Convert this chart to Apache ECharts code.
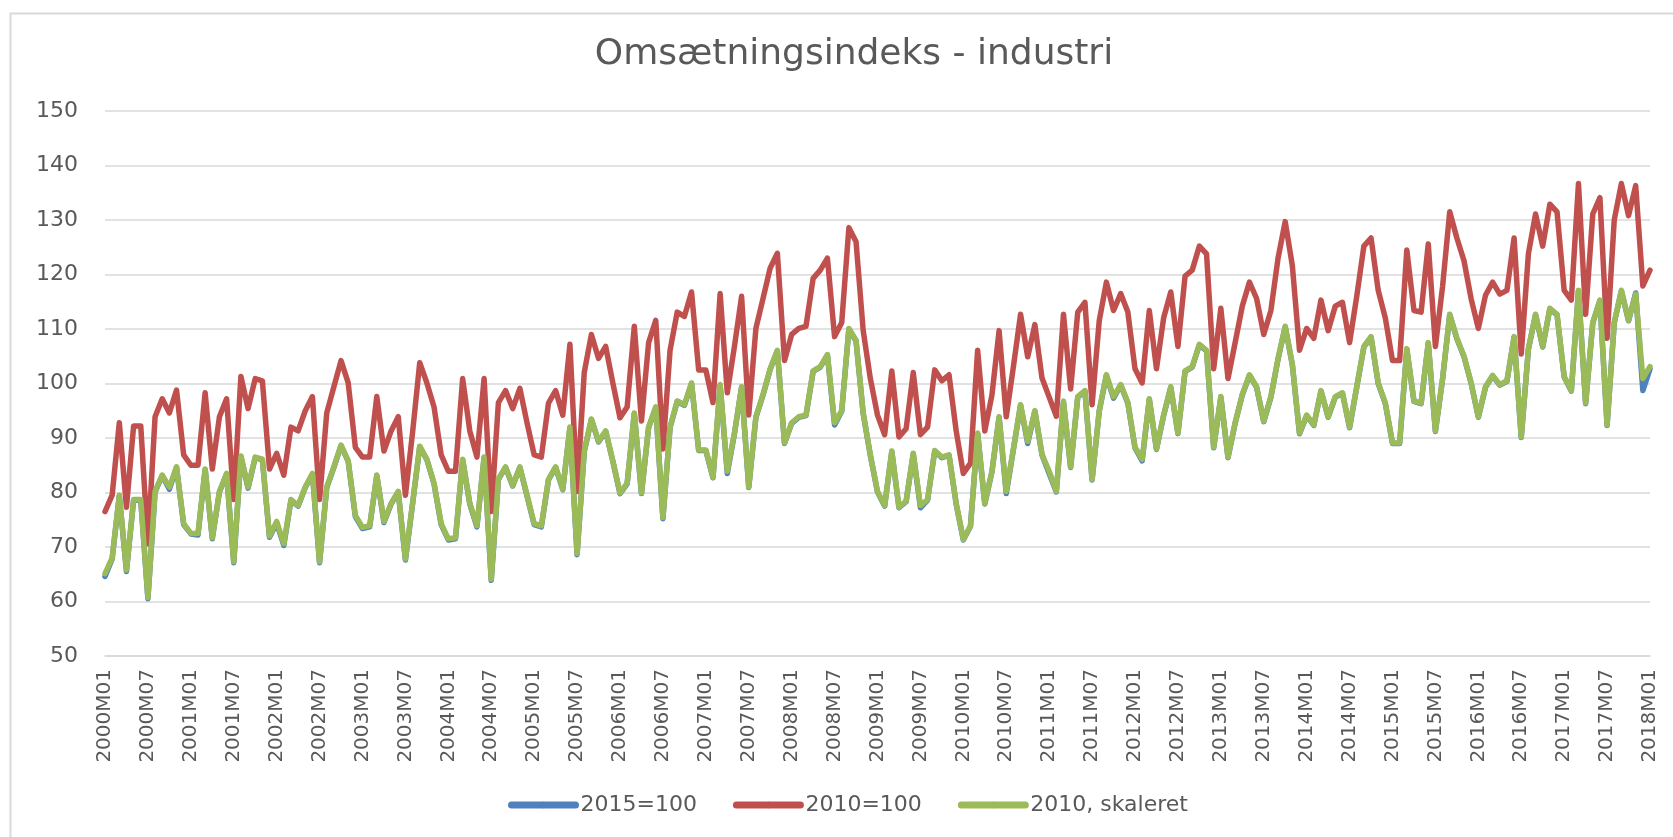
<!DOCTYPE html>
<html>
<head>
<meta charset="utf-8">
<script src="https://cdn.jsdelivr.net/npm/echarts@6/dist/echarts.min.js"></script>
<style>
html,body{margin:0;padding:0;background:#fff;}
#chart{width:1673px;height:837px;}
</style>
</head>
<body>
<div id="chart"></div>
<script>
// Monthly categories 2000M01 .. 2018M01
const START_YEAR = 2000;
const END_YEAR = 2018;
const categories = [];
for (let y = START_YEAR; y <= END_YEAR; y++) {
  for (let m = 1; m <= 12; m++) {
    if (y === END_YEAR && m > 1) break;
    categories.push(y + 'M' + (m < 10 ? '0' + m : '' + m));
  }
}

const yTicks = [50, 60, 70, 80, 90, 100, 110, 120, 130, 140, 150];

const seriesNames = ['2015=100', '2010=100', '2010, skaleret'];

// 2010=100 (red)
const idx2010 = [
76.5,79.5,92.8,77.3,92.2,92.2,70.6,93.9,97.2,94.6,98.8,86.9,
85.0,85.0,98.3,84.3,93.9,97.2,78.7,101.3,95.4,100.9,100.5,84.3,
87.2,83.2,92.0,91.3,95.0,97.6,78.7,94.6,99.4,104.2,100.1,88.3,
86.5,86.5,97.6,87.6,91.3,93.9,79.5,91.0,103.8,100.1,95.7,86.9,
83.9,83.9,100.9,91.3,86.5,100.9,76.5,96.5,98.7,95.4,99.1,92.8,
86.9,86.5,96.4,98.7,94.2,107.2,80.2,102.0,109.0,104.6,106.8,100.1,
93.7,95.7,110.5,93.1,107.5,111.6,88.0,106.1,113.1,112.3,116.8,102.5,
102.5,96.5,116.5,98.3,106.8,116.0,94.2,110.1,115.6,121.2,123.9,104.2,
109.0,110.1,110.5,119.3,120.8,123.0,108.6,111.2,128.6,126.0,109.7,100.9,
94.2,90.6,102.3,90.2,91.7,102.0,90.6,92.0,102.5,100.5,101.6,91.3,
83.5,85.4,106.1,91.3,97.9,109.7,93.9,103.1,112.7,104.9,110.8,101.0,
97.5,94.0,112.7,99.0,113.1,114.9,96.1,111.5,118.6,113.4,116.5,113.1,
102.7,100.1,113.4,102.7,112.0,116.8,106.8,119.7,120.8,125.2,123.8,102.7,
113.8,100.9,107.5,114.2,118.6,115.6,109.0,113.4,123.0,129.7,121.6,106.1,
110.1,108.3,115.3,109.7,114.2,114.9,107.5,116.0,125.2,126.7,117.1,112.0,
104.2,104.2,124.5,113.4,113.1,125.6,106.8,117.8,131.5,126.7,122.5,115.5,
110.1,116.2,118.6,116.4,117.1,126.7,105.4,123.8,131.1,125.2,132.9,131.5,
117.1,115.3,136.7,112.7,131.1,134.1,108.3,130.0,136.7,130.8,136.3,117.9,
120.8
];

// 2010, skaleret (green)
const idx2010scaled = [
65.1,68.0,79.5,65.8,78.7,78.7,60.7,80.2,83.2,81.0,84.7,74.3,
72.5,72.5,84.3,71.7,80.2,83.5,67.3,86.7,81.0,86.5,86.1,72.0,
74.7,70.6,78.7,77.6,81.0,83.5,67.3,81.0,84.7,88.7,85.8,75.8,
73.6,73.9,83.2,74.7,78.0,80.2,67.8,78.0,88.5,86.1,81.7,74.3,
71.5,71.7,86.1,78.0,73.9,86.5,64.1,82.5,84.7,81.3,84.7,79.5,
74.3,73.9,82.4,84.7,80.6,92.0,68.8,87.6,93.5,89.4,91.3,85.8,
79.9,81.7,94.6,79.9,92.0,95.7,75.4,92.0,96.8,96.1,100.1,87.8,
87.8,82.8,99.8,83.9,90.9,99.4,81.0,93.9,98.0,102.7,106.1,89.1,
92.8,93.9,94.2,102.3,103.1,105.3,92.8,95.0,110.1,107.9,94.6,86.9,
80.2,77.6,87.6,77.3,78.4,87.2,77.6,78.7,87.7,86.5,86.9,78.0,
71.4,73.9,90.9,78.0,83.9,93.9,80.2,88.0,96.1,89.4,95.0,87.0,
83.9,80.2,96.8,84.7,97.6,98.7,82.4,95.0,101.6,97.6,99.8,96.5,
88.3,86.1,97.2,88.0,94.2,99.4,90.9,102.3,103.1,107.2,106.1,88.3,
97.6,86.5,92.8,98.0,101.6,99.4,93.1,97.6,104.6,110.5,103.5,90.9,
94.2,92.4,98.7,93.9,97.6,98.3,92.0,99.4,106.8,108.6,100.1,96.4,
89.1,89.1,106.4,96.8,96.4,107.5,91.3,100.9,112.7,108.3,105.0,100.1,
93.9,99.4,101.5,99.8,100.5,108.6,90.2,106.4,112.7,106.8,113.8,112.7,
101.3,98.7,117.1,96.4,111.2,115.3,92.4,111.2,117.1,111.6,116.4,100.9,
103.1
];

// 2015=100 (blue, mostly hidden under green)
const idx2015 = [
64.6,67.8,79.4,65.5,78.6,78.6,60.5,80.1,83.1,80.6,84.6,74.1,
72.4,72.2,84.2,71.5,80.1,83.4,67.1,86.6,80.8,86.4,86.0,71.8,
74.4,70.3,78.6,77.5,80.9,83.4,67.1,80.9,84.6,88.6,85.7,75.6,
73.4,73.7,83.1,74.5,77.9,80.1,67.6,77.9,88.4,86.0,81.6,74.1,
71.3,71.5,86.0,77.9,73.7,86.4,63.9,82.4,84.6,81.2,84.6,79.4,
74.1,73.7,82.3,84.6,80.5,91.9,68.6,87.5,93.4,89.3,91.2,85.7,
79.8,81.6,94.5,79.8,91.9,95.6,75.2,91.9,96.7,96.0,100.0,87.7,
87.7,82.7,99.7,83.5,90.8,99.3,80.9,93.8,97.9,102.6,106.0,89.0,
92.7,93.8,94.1,102.2,103.0,105.2,92.4,94.9,110.0,107.8,94.5,86.8,
80.1,77.5,87.5,77.2,78.3,87.1,77.2,78.6,87.6,86.4,86.8,77.9,
71.3,73.8,90.8,77.9,83.8,93.8,79.8,87.9,96.0,89.0,94.9,86.9,
83.5,80.1,96.5,84.6,97.5,98.6,82.3,94.9,101.5,97.3,99.7,96.4,
88.2,85.8,97.1,87.9,94.1,99.3,90.8,102.2,103.0,107.1,106.0,88.2,
97.5,86.4,92.7,97.9,101.5,99.3,93.0,97.5,104.5,110.4,103.4,90.8,
94.1,92.3,98.6,93.8,97.5,98.2,91.9,99.3,106.7,108.5,100.0,96.3,
89.0,89.0,106.3,96.7,96.3,107.4,91.2,100.8,112.6,108.2,104.9,100.0,
93.8,99.3,101.4,99.7,100.4,108.5,90.1,106.3,112.6,106.7,113.7,112.6,
101.2,98.6,117.0,96.3,111.1,115.2,92.3,111.1,117.0,111.5,116.6,98.7,
102.7
];

const colors = ['#4F81BD', '#C0504D', '#9BBB59'];
const FONT = 'DejaVu Sans';
const GRAY = '#595959';

const chart = echarts.init(document.getElementById('chart'), null, {renderer: 'canvas'});

function lineSeries(name, data, color) {
  return {
    name: name,
    type: 'line',
    data: data,
    showSymbol: false,
    symbol: 'none',
    smooth: false,
    animation: false,
    lineStyle: {color: color, width: 5.5, cap: 'round', join: 'round'},
    itemStyle: {color: color}
  };
}

chart.setOption({
  animation: false,
  backgroundColor: '#ffffff',
  graphic: [{
    type: 'rect',
    shape: {x: 10.5, y: 13.5, width: 1700, height: 900},
    style: {fill: 'none', stroke: '#d9d9d9', lineWidth: 2},
    silent: true,
    z: -1
  }],
  title: {
    text: 'Omsætningsindeks - industri',
    left: 849,
    top: 32,
    textAlign: 'center',
    textStyle: {fontFamily: FONT, fontSize: 36, fontWeight: 'normal', color: GRAY}
  },
  legend: {
    data: seriesNames,
    left: 503,
    top: 789,
    itemWidth: 64,
    itemHeight: 8,
    itemGap: 36,
    lineStyle: {width: 7, cap: 'round'},
    textStyle: {fontFamily: FONT, fontSize: 22, color: GRAY}
  },
  grid: {left: 105, right: 23, top: 111, bottom: 181, containLabel: false},
  xAxis: {
    type: 'category',
    data: categories,
    boundaryGap: false,
    axisLine: {show: true, lineStyle: {color: '#d9d9d9', width: 1.5}},
    axisTick: {show: false},
    splitLine: {show: false},
    axisLabel: {
      interval: 5,
      rotate: 90,
      margin: 13,
      fontFamily: FONT,
      fontSize: 20,
      color: GRAY
    }
  },
  yAxis: {
    type: 'value',
    min: yTicks[0],
    max: yTicks[yTicks.length - 1],
    interval: 10,
    axisLine: {show: false},
    axisTick: {show: false},
    splitLine: {show: true, lineStyle: {color: '#d9d9d9', width: 1.5}},
    axisLabel: {margin: 27, fontFamily: FONT, fontSize: 22, color: GRAY}
  },
  series: [
    lineSeries(seriesNames[0], idx2015, colors[0]),
    lineSeries(seriesNames[1], idx2010, colors[1]),
    lineSeries(seriesNames[2], idx2010scaled, colors[2])
  ]
});
</script>
</body>
</html>
